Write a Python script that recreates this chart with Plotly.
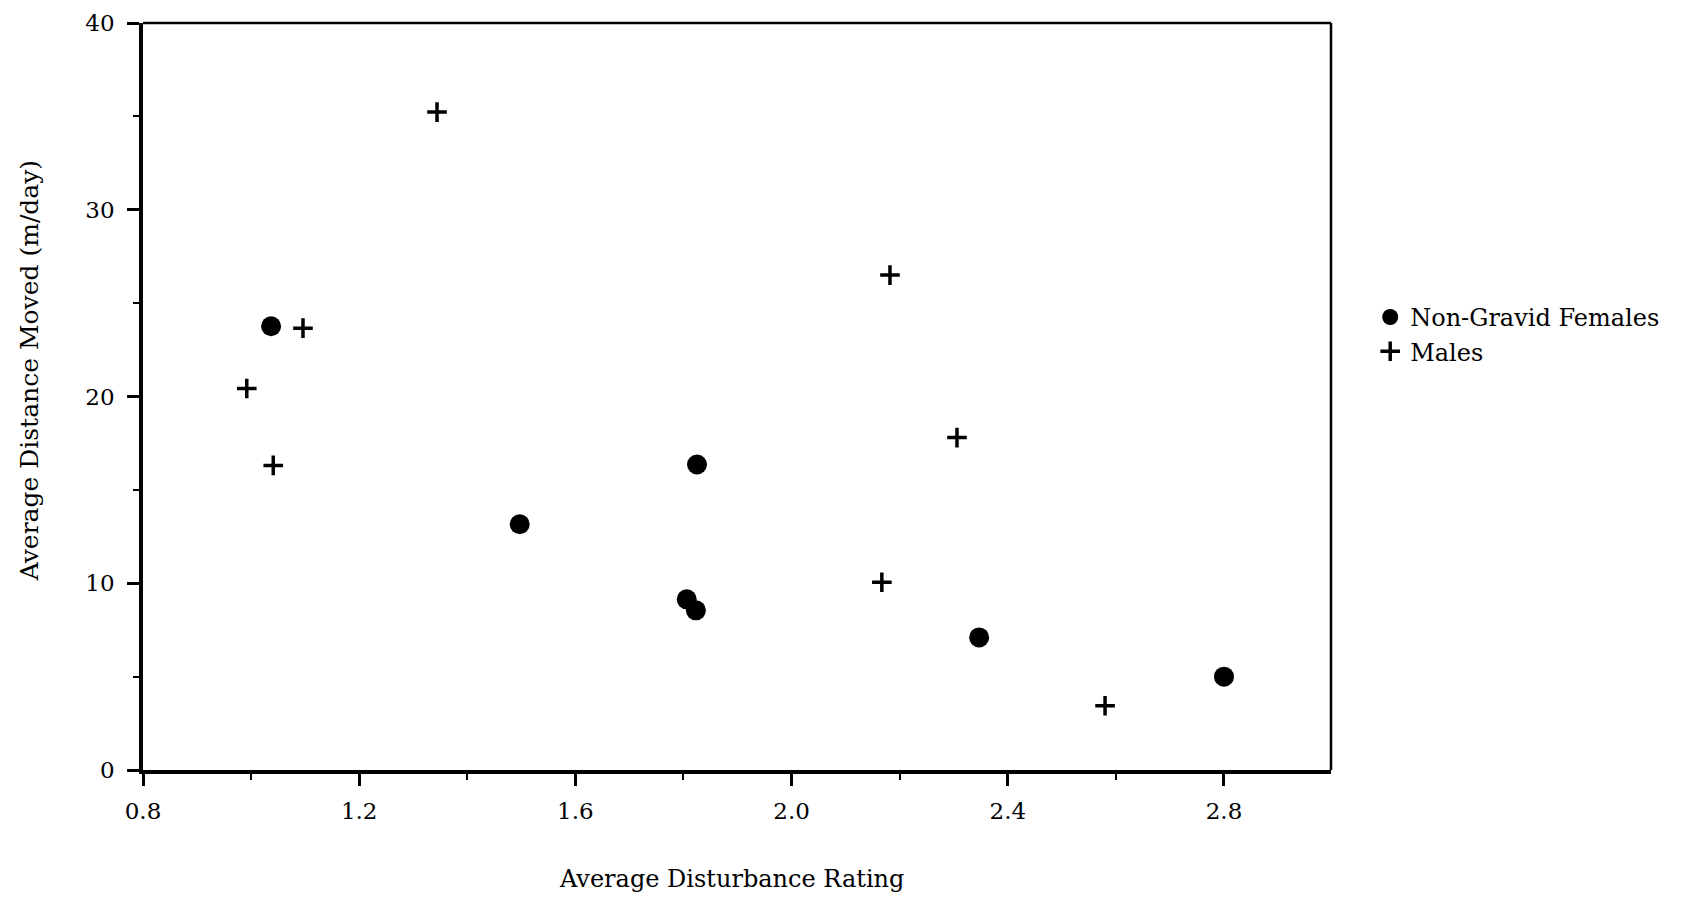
import plotly.graph_objects as go

# Data
female_x = [1.037, 1.497, 1.825, 1.806, 1.823, 2.347, 2.800]
female_y = [23.76, 13.16, 16.36, 9.14, 8.55, 7.10, 5.00]
male_x = [1.344, 1.096, 0.992, 1.041, 2.182, 2.306, 2.167, 2.580]
male_y = [35.23, 23.66, 20.43, 16.31, 26.50, 17.80, 10.05, 3.44]

x_ticks = [0.8, 1.2, 1.6, 2.0, 2.4, 2.8]
x_tick_labels = ["0.8", "1.2", "1.6", "2.0", "2.4", "2.8"]
y_ticks = [0, 10, 20, 30, 40]
y_tick_labels = ["0", "10", "20", "30", "40"]

FONT = "DejaVu Serif"

fig = go.Figure()
fig.add_trace(go.Scatter(
    x=female_x, y=female_y, mode="markers", name="Non-Gravid Females",
    marker=dict(symbol="circle", size=20, color="black"),
))
fig.add_trace(go.Scatter(
    x=male_x, y=male_y, mode="markers", name="Males",
    marker=dict(symbol="cross-thin-open", size=14, color="black",
                line=dict(width=3.5, color="black")),
))

axis_common = dict(
    showline=True, linewidth=3.5, linecolor="black", mirror=False,
    showgrid=False, zeroline=False, automargin=False,
    ticks="outside", tickwidth=3, tickcolor="black", ticklen=12,
    ticklabeloverflow="allow",
    tickfont=dict(family=FONT, size=23, color="black"),
)

fig.update_xaxes(
    range=[0.8, 2.998], tickvals=x_ticks, ticktext=x_tick_labels,
    ticklabelstandoff=6,
    minor=dict(dtick=0.4, tick0=1.0, ticks="outside", ticklen=6,
               tickwidth=2, tickcolor="black"),
    **axis_common,
)
fig.update_yaxes(
    range=[0, 40], tickvals=y_ticks, ticktext=y_tick_labels,
    ticklabelstandoff=8,
    minor=dict(dtick=10, tick0=5, ticks="outside", ticklen=6,
               tickwidth=2, tickcolor="black"),
    **axis_common,
)

# top and right frame lines (thinner than the axes)
fig.add_shape(type="line", xref="paper", yref="paper", x0=0, x1=1, y0=1, y1=1,
              line=dict(color="black", width=2.5))
fig.add_shape(type="line", xref="paper", yref="paper", x0=1, x1=1, y0=0, y1=1,
              line=dict(color="black", width=2.5))

fig.add_annotation(
    text="Average Disturbance Rating", xref="paper", yref="paper",
    x=0.495, y=-0.146, xanchor="center", yanchor="middle", showarrow=False,
    font=dict(family=FONT, size=24, color="black"),
)
fig.add_annotation(
    text="Average Distance Moved (m/day)", xref="paper", yref="paper",
    x=-0.096, y=0.535, xanchor="center", yanchor="middle", showarrow=False,
    textangle=-90, font=dict(family=FONT, size=25, color="black"),
)

fig.update_layout(
    width=1686, height=900,
    margin=dict(l=135, r=363, t=15, b=138, autoexpand=False),
    paper_bgcolor="white", plot_bgcolor="white",
    showlegend=True,
    legend=dict(x=1.033, y=0.636, xanchor="left", yanchor="top",
                font=dict(family=FONT, size=24, color="black"),
                bgcolor="rgba(0,0,0,0)", itemsizing="trace"),
)

fig.write_html("out.html")
